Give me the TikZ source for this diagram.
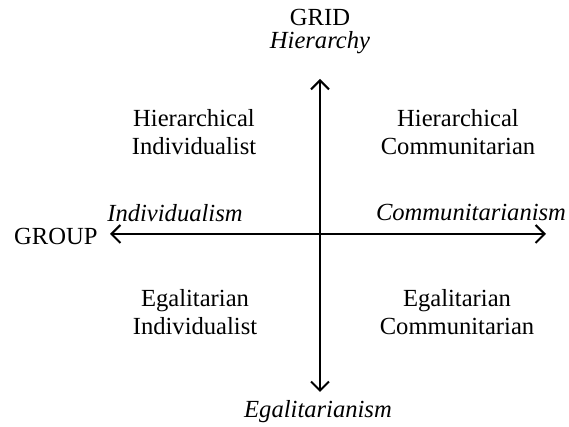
\documentclass[tikz,border=0pt]{standalone}
\usepackage{fontspec}
\setmainfont{Liberation Serif}
\usetikzlibrary{arrows.meta}
\begin{document}
\begin{tikzpicture}[x=0.5pt,y=-0.5pt,
  lbl/.style={font=\fontsize{12.3}{14}\selectfont, inner sep=0pt, align=center},
  ital/.style={lbl, font=\fontsize{12.3}{14}\selectfont\itshape},
  axis/.style={line width=1pt, {Straight Barb[length=4.5pt,width=9pt,line width=1pt]}-{Straight Barb[length=4.5pt,width=9pt,line width=1pt]}}]
\useasboundingbox (0,0) rectangle (569,427);
\coordinate (top) at (320,79);
\coordinate (bot) at (320,392);
\coordinate (left) at (110,234);
\coordinate (right) at (546,234);
\draw[axis] (top) -- (bot);
\draw[axis] (left) -- (right);
\node[lbl] (grid) at (320,17) {GRID};
\node[ital] (hier) at (320,43) {Hierarchy};
\node[ital] (egal) at (318,412) {Egalitarianism};
\node[lbl, anchor=east] (group) at (98,236) {GROUP};
\node[ital] (indiv) at (175,213) {Individualism};
\node[ital] (comm) at (471,213) {Communitarianism};
\node[lbl] (hi) at (194,132) {Hierarchical\\Individualist};
\node[lbl] (hc) at (458,132) {Hierarchical\\Communitarian};
\node[lbl] (ei) at (195,312) {Egalitarian\\Individualist};
\node[lbl] (ec) at (457,312) {Egalitarian\\Communitarian};
\end{tikzpicture}
\end{document}
